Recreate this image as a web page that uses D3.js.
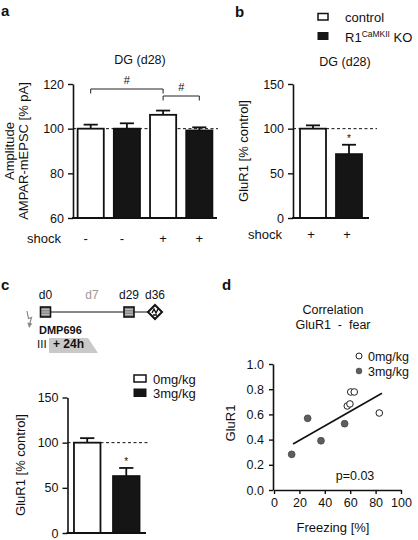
<!DOCTYPE html>
<html><head><meta charset="utf-8">
<script src="https://cdn.jsdelivr.net/npm/d3@7/dist/d3.min.js"></script>
<style>
body{margin:0;background:#fff;}
svg{display:block;}
text{font-family:'Liberation Sans',Arial,Helvetica,sans-serif;fill:#111;}
</style></head>
<body>
<script>
// ---------- data ----------
// panel a
const shockA = ["-", "-", "+", "+"];
const groupA = ["control", "KO", "control", "KO"];
const ampMean = [100, 100, 106.2, 99.2];
const ampErr = [1.8, 2.4, 1.9, 1.4];
const ticksA = [60, 80, 100, 120];
// panel b
const shockB = ["+", "+"];
const groupB = ["control", "KO"];
const gluBMean = [100, 71.5];
const gluBErr = [3.7, 10.5];
const ticksB = [0, 50, 100, 150];
// panel c
const groupC = ["0mg/kg", "3mg/kg"];
const gluCMean = [100, 63];
const gluCErr = [5, 9];
const ticksC = [0, 50, 100, 150];
const days = ["d0", "d7", "d29", "d36"];
const dayNum = [0, 7, 29, 36];
// panel d
const freeze0 = [57.7, 59.8, 60.4, 63.2, 82.9];
const glu0 = [0.667, 0.683, 0.778, 0.778, 0.611];
const freeze3 = [13.9, 26.5, 37.0, 55.6];
const glu3 = [0.283, 0.569, 0.391, 0.526];
const fitX = [15, 85];
const fitY = [0.365, 0.768];
const ticksDx = [0, 20, 40, 60, 80, 100];
const ticksDy = [0, 0.2, 0.4, 0.6, 0.8, 1.0];

const W = 418, H = 540;
const svg = d3.select("body").append("svg").attr("width", W).attr("height", H);
svg.append("rect").attr("width", W).attr("height", H).attr("fill", "#fff");

const fill = g => (g === "control" || g === "0mg/kg") ? "#fff" : "#151515";

function styleAxis(g, fs) {
  g.select(".domain").attr("stroke", "#111").attr("stroke-width", 1.6);
  g.selectAll(".tick line").attr("stroke", "#111").attr("stroke-width", 1.4);
  g.selectAll(".tick text").attr("font-size", fs).attr("fill", "#222")
    .attr("font-family", "'Liberation Sans',Arial,Helvetica,sans-serif");
}

function barPanel(opts) {
  const g = svg.append("g");
  const y = d3.scaleLinear().domain(opts.domain).range(opts.yRange);
  const x = d3.scaleBand().domain(d3.range(opts.means.length)).range(opts.xRange)
    .paddingInner(opts.pi).paddingOuter(opts.po);
  // dashed 100 line
  g.append("line").attr("x1", opts.xRange[0]).attr("x2", opts.dashEnd)
    .attr("y1", y(100)).attr("y2", y(100)).attr("stroke", "#111")
    .attr("stroke-width", 1).attr("stroke-dasharray", "3,2.5");
  // error bars
  const cw = x.bandwidth() * 0.25;
  opts.means.forEach((m, i) => {
    const cx = x(i) + x.bandwidth() / 2;
    g.append("line").attr("x1", cx).attr("x2", cx).attr("y1", y(m)).attr("y2", y(m + opts.errs[i]))
      .attr("stroke", "#111").attr("stroke-width", 1.8);
    g.append("line").attr("x1", cx - cw).attr("x2", cx + cw).attr("y1", y(m + opts.errs[i])).attr("y2", y(m + opts.errs[i]))
      .attr("stroke", "#111").attr("stroke-width", 1.8);
  });
  // bars
  g.selectAll("rect.bar").data(opts.means).join("rect").attr("class", "bar")
    .attr("x", (d, i) => x(i) + 1).attr("width", x.bandwidth() - 2)
    .attr("y", d => y(d)).attr("height", d => y(opts.domain[0]) - y(d))
    .attr("fill", (d, i) => fill(opts.groups[i])).attr("stroke", "#111").attr("stroke-width", 1.8);
  // axes
  const ya = g.append("g").attr("transform", `translate(${opts.xRange[0]},0)`)
    .call(d3.axisLeft(y).tickValues(opts.ticks).tickSize(5).tickSizeOuter(0).tickPadding(4));
  styleAxis(ya, 12.5);
  g.append("line").attr("x1", opts.xRange[0] - 1).attr("x2", opts.xRange[1])
    .attr("y1", y(opts.domain[0])).attr("y2", y(opts.domain[0])).attr("stroke", "#111").attr("stroke-width", 1.8);
  return {g, x, y};
}

// ---------- panel a ----------
svg.append("text").attr("x", 1).attr("y", 16).attr("font-size", 15).attr("font-weight", "bold").text("a");
const A = barPanel({domain: [60, 120], yRange: [218, 84], xRange: [73, 217], pi: 0.222, po: 0.1,
  means: ampMean, errs: ampErr, groups: groupA, ticks: ticksA, dashEnd: 218});
svg.append("text").attr("x", 140).attr("y", 64).attr("text-anchor", "middle").attr("font-size", 12.5).text("DG (d28)");
svg.append("text").attr("transform", "translate(9,151) rotate(-90)").attr("dy", "0.35em")
  .attr("text-anchor", "middle").attr("font-size", 13).text("Amplitude");
svg.append("text").attr("transform", "translate(23,151) rotate(-90)").attr("dy", "0.35em")
  .attr("text-anchor", "middle").attr("font-size", 13).text("AMPAR-mEPSC [% pA]");
svg.append("text").attr("x", 27).attr("y", 243).attr("font-size", 13).text("shock");
shockA.forEach((s, i) => {
  svg.append("text").attr("x", A.x(i) + A.x.bandwidth() / 2 - (s === "-" ? 5 : 0)).attr("y", 243)
    .attr("text-anchor", "middle").attr("font-size", 13).text(s);
});
// significance brackets
function bracket(i1, i2, yv, drop, label, labelY) {
  const x1 = A.x(i1) + A.x.bandwidth() / 2, x2 = A.x(i2) + A.x.bandwidth() / 2;
  svg.append("path").attr("d", `M${x1},${yv + drop}V${yv}H${x2}V${yv + drop}`)
    .attr("fill", "none").attr("stroke", "#222").attr("stroke-width", 1);
  svg.append("text").attr("x", (x1 + x2) / 2).attr("y", labelY).attr("text-anchor", "middle")
    .attr("font-size", 11).text(label);
}
bracket(0, 2, 89, 4.5, "#", 84);
bracket(2, 3, 96, 4.5, "#", 91);

// ---------- panel b ----------
svg.append("text").attr("x", 235).attr("y", 17).attr("font-size", 15).attr("font-weight", "bold").text("b");
const B = barPanel({domain: [0, 150], yRange: [218, 84], xRange: [293, 369], pi: 0.222, po: 0.167,
  means: gluBMean, errs: gluBErr, groups: groupB, ticks: ticksB, dashEnd: 377});
svg.append("text").attr("x", 345).attr("y", 66).attr("text-anchor", "middle").attr("font-size", 12.5).text("DG (d28)");
svg.append("text").attr("transform", "translate(243,151) rotate(-90)").attr("dy", "0.35em")
  .attr("text-anchor", "middle").attr("font-size", 13).text("GluR1 [% control]");
svg.append("text").attr("x", 248).attr("y", 239).attr("font-size", 13).text("shock");
shockB.forEach((s, i) => {
  svg.append("text").attr("x", B.x(i) + B.x.bandwidth() / 2 - 2).attr("y", 239)
    .attr("text-anchor", "middle").attr("font-size", 13).text(s);
});
svg.append("text").attr("x", B.x(1) + B.x.bandwidth() / 2).attr("y", B.y(gluBMean[1] + gluBErr[1]) - 3)
  .attr("text-anchor", "middle").attr("font-size", 10).text("*");
// legend b
svg.append("rect").attr("x", 318).attr("y", 13.5).attr("width", 10).attr("height", 6.5)
  .attr("fill", "#fff").attr("stroke", "#111").attr("stroke-width", 1.5);
svg.append("rect").attr("x", 317.5).attr("y", 32).attr("width", 11).attr("height", 8).attr("fill", "#151515");
svg.append("text").attr("x", 345).attr("y", 21.5).attr("font-size", 13).text("control");
const kt = svg.append("text").attr("x", 345).attr("y", 41.5).attr("font-size", 13);
kt.append("tspan").text("R1");
kt.append("tspan").attr("font-size", 8.5).attr("dy", -5).text("CaMKII");
kt.append("tspan").attr("dy", 5).text(" KO");

// ---------- panel c ----------
svg.append("text").attr("x", 1).attr("y", 290).attr("font-size", 15).attr("font-weight", "bold").text("c");
const tl = d3.scaleLinear().domain(dayNum).range([45.5, 92, 129, 155]);
svg.append("line").attr("x1", tl(0)).attr("x2", tl(36)).attr("y1", 312).attr("y2", 312)
  .attr("stroke", "#111").attr("stroke-width", 1);
days.forEach((d, i) => {
  svg.append("text").attr("x", tl(dayNum[i])).attr("y", 299).attr("text-anchor", "middle")
    .attr("font-size", 12).style("fill", d === "d7" ? "#999" : "#111").text(d);
});
[0, 29].forEach(dn => {
  const cx = tl(dn);
  svg.append("rect").attr("x", cx - 5).attr("y", 307).attr("width", 10).attr("height", 10)
    .attr("fill", "#8a8a8a").attr("stroke", "#111").attr("stroke-width", 1.6);
  [309.5, 312, 314.5].forEach(yy => svg.append("line").attr("x1", cx - 4).attr("x2", cx + 4)
    .attr("y1", yy).attr("y2", yy).attr("stroke", "#c8c8c8").attr("stroke-width", 0.8));
});
{
  const cx = tl(36), cy = 312, r = 7;
  svg.append("path").attr("d", `M${cx},${cy - r}L${cx + r},${cy}L${cx},${cy + r}L${cx - r},${cy}Z`)
    .attr("fill", "#fff").attr("stroke", "#111").attr("stroke-width", 2);
  svg.append("path").attr("d", `M${cx - 3},${cy + 1}L${cx - 1},${cy - 3}L${cx + 1},${cy + 1}L${cx + 3},${cy - 3}M${cx - 2},${cy + 3}H${cx + 2}`)
    .attr("fill", "none").attr("stroke", "#111").attr("stroke-width", 1.4);
}
// lightning
svg.append("path").attr("d", "M27,311L28.5,318.5L31.5,317.5L29.8,323.5")
  .attr("fill", "none").attr("stroke", "#888").attr("stroke-width", 1.2);
svg.append("path").attr("d", "M27.3,322.5L32.3,323.5L29.2,328Z").attr("fill", "#888");
svg.append("text").attr("x", 39).attr("y", 334).attr("font-size", 11).attr("font-weight", "bold").text("DMP696");
svg.append("path").attr("d", "M49,338H88L98,353H49Z").attr("fill", "#c9c9c9");
svg.append("text").attr("x", 37).attr("y", 348).attr("font-size", 11.5).text("III");
svg.append("text").attr("x", 53).attr("y", 348).attr("font-size", 12).attr("font-weight", "bold").text("+ 24h");

const C = barPanel({domain: [0, 150], yRange: [533, 397.5], xRange: [67.5, 146], pi: 0.27, po: 0.14,
  means: gluCMean, errs: gluCErr, groups: groupC, ticks: ticksC, dashEnd: 148});
svg.append("text").attr("transform", "translate(20,465) rotate(-90)").attr("dy", "0.35em")
  .attr("text-anchor", "middle").attr("font-size", 13).text("GluR1 [% control]");
svg.append("text").attr("x", C.x(1) + C.x.bandwidth() / 2).attr("y", C.y(gluCMean[1] + gluCErr[1]) - 3)
  .attr("text-anchor", "middle").attr("font-size", 10).text("*");
svg.append("rect").attr("x", 134).attr("y", 375).attr("width", 12).attr("height", 7)
  .attr("fill", "#fff").attr("stroke", "#111").attr("stroke-width", 1.5);
svg.append("rect").attr("x", 133.5).attr("y", 388.5).attr("width", 13).attr("height", 8.5).attr("fill", "#151515");
svg.append("text").attr("x", 153).attr("y", 383.5).attr("font-size", 13).text(groupC[0]);
svg.append("text").attr("x", 153).attr("y", 397.5).attr("font-size", 13).text(groupC[1]);

// ---------- panel d ----------
svg.append("text").attr("x", 222).attr("y", 290).attr("font-size", 15).attr("font-weight", "bold").text("d");
svg.append("text").attr("x", 333).attr("y", 314).attr("text-anchor", "middle").attr("font-size", 12.5).text("Correlation");
svg.append("text").attr("x", 333).attr("y", 329).attr("text-anchor", "middle").attr("font-size", 12.5)
  .attr("xml:space", "preserve").style("white-space", "pre").text("GluR1  -  fear");
const xd = d3.scaleLinear().domain([0, 100]).range([274, 401]);
const yd = d3.scaleLinear().domain([0, 1]).range([490, 364]);
const xa = svg.append("g").attr("transform", "translate(0,490)")
  .call(d3.axisBottom(xd).tickValues(ticksDx).tickSize(4).tickSizeOuter(0).tickPadding(4));
styleAxis(xa, 12.5);
const yaD = svg.append("g").attr("transform", "translate(273,0)")
  .call(d3.axisLeft(yd).tickValues(ticksDy).tickFormat(d3.format(".1f")).tickSize(4).tickSizeOuter(0).tickPadding(5));
styleAxis(yaD, 12.5);
svg.append("line").attr("x1", xd(fitX[0])).attr("x2", xd(fitX[1])).attr("y1", yd(fitY[0])).attr("y2", yd(fitY[1]))
  .attr("stroke", "#111").attr("stroke-width", 1.6);
svg.selectAll("circle.f3").data(freeze3).join("circle").attr("class", "f3")
  .attr("cx", d => xd(d)).attr("cy", (d, i) => yd(glu3[i])).attr("r", 3.4)
  .attr("fill", "#5e5e5e").attr("stroke", "#444").attr("stroke-width", 0.8);
svg.selectAll("circle.f0").data(freeze0).join("circle").attr("class", "f0")
  .attr("cx", d => xd(d)).attr("cy", (d, i) => yd(glu0[i])).attr("r", 3.3)
  .attr("fill", "#fff").attr("stroke", "#222").attr("stroke-width", 1);
svg.append("circle").attr("cx", 359).attr("cy", 356).attr("r", 3).attr("fill", "#fff").attr("stroke", "#222").attr("stroke-width", 1);
svg.append("circle").attr("cx", 359).attr("cy", 371).attr("r", 3.2).attr("fill", "#5e5e5e");
svg.append("text").attr("x", 368).attr("y", 360.5).attr("font-size", 12.5).text("0mg/kg");
svg.append("text").attr("x", 368).attr("y", 375.5).attr("font-size", 12.5).text("3mg/kg");
svg.append("text").attr("x", 355).attr("y", 480).attr("text-anchor", "middle").attr("font-size", 12.5).text("p=0.03");
svg.append("text").attr("transform", "translate(230,423) rotate(-90)").attr("dy", "0.35em")
  .attr("text-anchor", "middle").attr("font-size", 13).text("GluR1");
svg.append("text").attr("x", 333).attr("y", 532).attr("text-anchor", "middle").attr("font-size", 13).text("Freezing [%]");
</script>
</body></html>
